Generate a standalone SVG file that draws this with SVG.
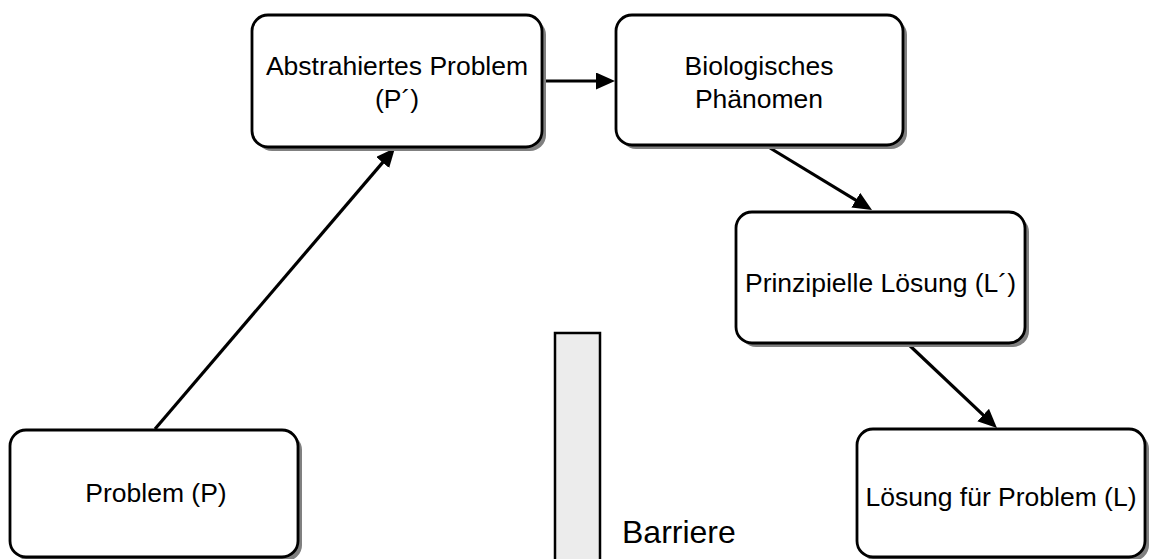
<svg xmlns="http://www.w3.org/2000/svg" width="1149" height="559" viewBox="0 0 1149 559">
  <defs>
    <marker id="arrow" markerUnits="userSpaceOnUse" markerWidth="22" markerHeight="18" refX="13" refY="8.5" orient="auto">
      <path d="M0,0 L19,8.5 L0,17 z" fill="#000"/>
    </marker>
  </defs>
  <style>
    .shadow { fill: #808080; }
    .box { fill: #fff; stroke: #000; stroke-width: 2.8; }
    .label { font-family: "Liberation Sans", Arial, sans-serif; font-size: 26.5px; fill: #000; text-anchor: middle; }
    .edge { stroke: #000; stroke-width: 3.2; fill: none; marker-end: url(#arrow); }
    .barrier { fill: #ececec; stroke: #000; stroke-width: 2.5; }
    .barrier-label { font-family: "Liberation Sans", Arial, sans-serif; font-size: 32px; fill: #000; }
  </style>
  <rect width="1149" height="559" fill="#fff"/>

  <!-- connectors -->
  <g id="connectors">
    <line class="edge" x1="155" y1="429" x2="391.1" y2="152.6"/>
    <line class="edge" x1="543" y1="81" x2="609" y2="81"/>
    <line class="edge" x1="770" y1="148" x2="866.9" y2="206.9"/>
    <line class="edge" x1="907" y1="343" x2="992.6" y2="423.9"/>
  </g>

  <g id="node-abstract">
    <rect class="shadow" x="256" y="19" width="290" height="132" rx="16"/>
    <rect class="box" x="252" y="15" width="290" height="132" rx="16"/>
    <text class="label" x="397" y="75">Abstrahiertes Problem</text>
    <text class="label" x="397" y="108">(P´)</text>
  </g>

  <g id="node-bio">
    <rect class="shadow" x="620" y="19" width="287" height="130" rx="16"/>
    <rect class="box" x="616" y="15" width="287" height="130" rx="16"/>
    <text class="label" x="759" y="75">Biologisches</text>
    <text class="label" x="759" y="108">Phänomen</text>
  </g>

  <g id="node-principle">
    <rect class="shadow" x="740" y="216" width="289" height="131" rx="16"/>
    <rect class="box" x="736" y="212" width="289" height="131" rx="16"/>
    <text class="label" x="880.5" y="292">Prinzipielle Lösung (L´)</text>
  </g>

  <g id="node-problem">
    <rect class="shadow" x="14" y="434" width="288" height="127" rx="16"/>
    <rect class="box" x="10" y="430" width="288" height="127" rx="16"/>
    <text class="label" x="156" y="502">Problem (P)</text>
  </g>

  <g id="node-solution">
    <rect class="shadow" x="861" y="433" width="288" height="128" rx="16"/>
    <rect class="box" x="857" y="429" width="288" height="128" rx="16"/>
    <text class="label" x="1001" y="506">Lösung für Problem (L)</text>
  </g>

  <g id="barrier">
    <rect class="barrier" x="555" y="333" width="45" height="240"/>
    <text class="barrier-label" x="622" y="543">Barriere</text>
  </g>
</svg>
